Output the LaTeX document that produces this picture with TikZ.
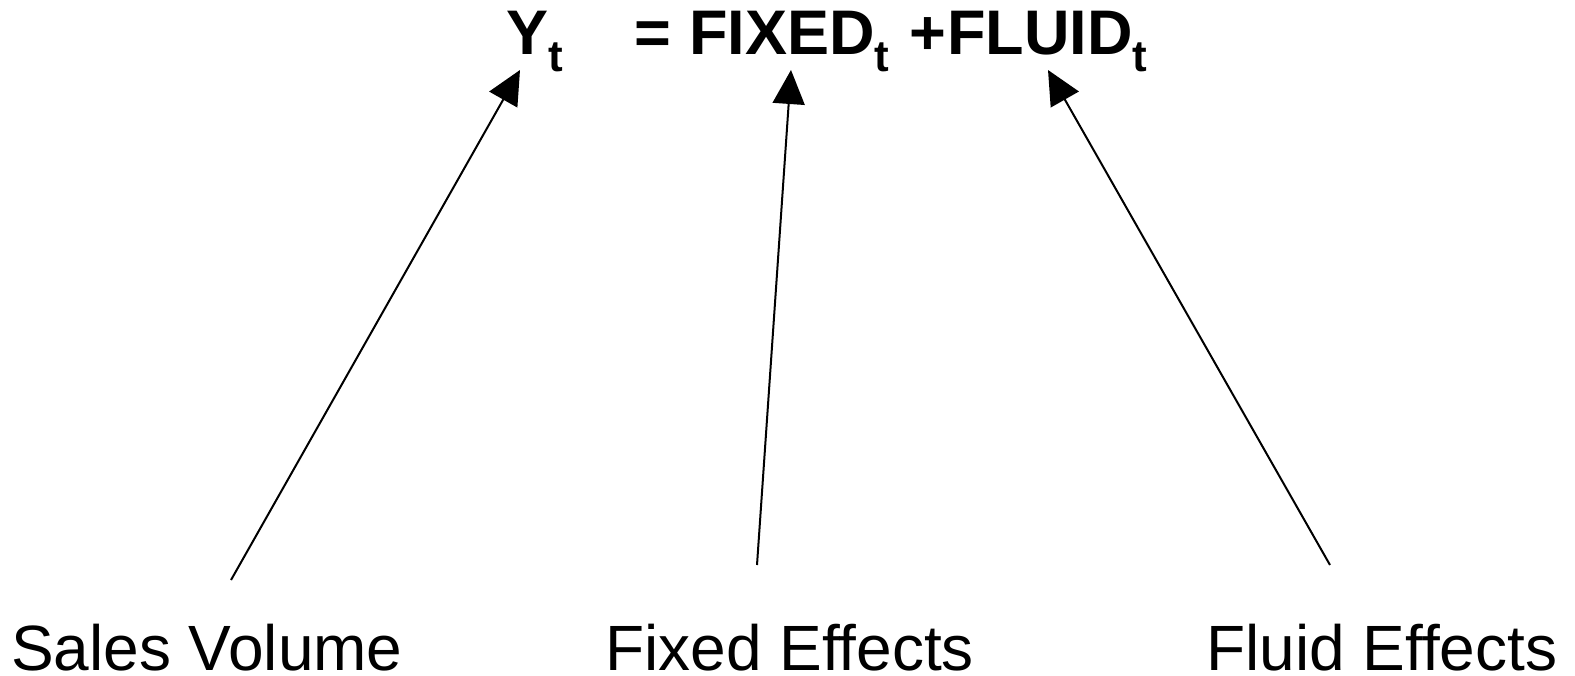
\documentclass[tikz,border=0pt]{standalone}
\usepackage{fontspec}
\setmainfont{Liberation Sans}
\usetikzlibrary{arrows.meta}
\begin{document}
\begin{tikzpicture}[x=1pt,y=-1pt,
  eqtext/.style={inner sep=0pt,font=\fontsize{63}{70}\selectfont\bfseries},
  labeltext/.style={inner sep=0pt,text depth=0pt,font=\fontsize{64}{72}\selectfont},
  pointer/.style={line width=2pt,-{Triangle[length=34pt,width=32pt]}}]
  \useasboundingbox (0,0) rectangle (1575,676);
  \newcommand{\subt}{\raisebox{-17pt}{\fontsize{44}{44}\selectfont t}}
  % equation
  \node[eqtext,anchor=base west] (ysym) at (506,55) {Y\subt};
  \node[eqtext,anchor=base west] (eq) at (634,55) {=};
  \node[eqtext,anchor=base west] (fixed) at (689,55) {FIXED\subt};
  \node[eqtext,anchor=base west] (plus) at (909,55) {+};
  \node[eqtext,anchor=base west] (fluid) at (947,55) {FLUID\subt};
  % labels
  \node[labeltext,anchor=base west] (sales) at (11,670) {Sales Volume};
  \node[labeltext,anchor=base west] (fixlab) at (605,670) {Fixed Effects};
  \node[labeltext,anchor=base west] (flulab) at (1206,670) {Fluid Effects};
  % connector ends
  \coordinate (salesTail) at (231,580);
  \coordinate (fixTail) at (757,565);
  \coordinate (fluTail) at (1330,565);
  \coordinate (yTip) at (520,70);
  \coordinate (fixTip) at (791,70);
  \coordinate (fluTip) at (1048,70);
  \draw[pointer] (salesTail) -- (yTip);
  \draw[pointer] (fixTail) -- (fixTip);
  \draw[pointer] (fluTail) -- (fluTip);
\end{tikzpicture}
\end{document}
